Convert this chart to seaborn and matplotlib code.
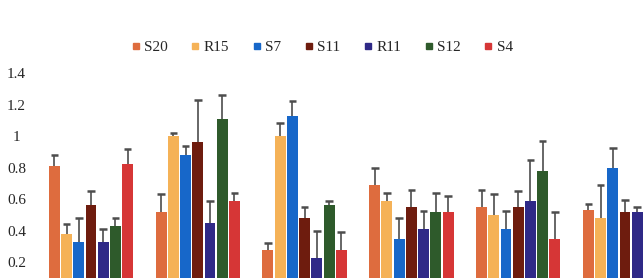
import numpy as np
import pandas as pd
import matplotlib
matplotlib.use("Agg")
import matplotlib.pyplot as plt
from matplotlib.lines import Line2D
import seaborn as sns

# groups (x labels are cropped off in the reference)
groups = ["G1", "G2", "G3", "G4", "G5", "G6"]
samples = ["S20", "R15", "S7", "S11", "R11", "S12", "S4"]
colors = ["#DE6C3E", "#F5B257", "#1767C9", "#6E1C0E", "#2F2987", "#2E5A2B", "#D63636"]

# mean values per sample, one list per group (last two of G6 are outside the crop)
g1 = [0.81, 0.38, 0.33, 0.56, 0.33, 0.43, 0.82]
g2 = [0.52, 1.00, 0.88, 0.96, 0.45, 1.11, 0.59]
g3 = [0.28, 1.00, 1.13, 0.48, 0.23, 0.56, 0.28]
g4 = [0.69, 0.59, 0.35, 0.55, 0.41, 0.52, 0.52]
g5 = [0.55, 0.50, 0.41, 0.55, 0.59, 0.78, 0.35]
g6 = [0.53, 0.48, 0.80, 0.52, 0.52, np.nan, np.nan]

# upper error bars
e1 = [0.07, 0.06, 0.15, 0.09, 0.08, 0.05, 0.10]
e2 = [0.11, 0.02, 0.06, 0.27, 0.14, 0.15, 0.05]
e3 = [0.045, 0.085, 0.09, 0.07, 0.17, 0.03, 0.11]
e4 = [0.11, 0.05, 0.13, 0.11, 0.115, 0.12, 0.10]
e5 = [0.11, 0.13, 0.115, 0.10, 0.26, 0.19, 0.17]
e6 = [0.04, 0.21, 0.125, 0.075, 0.03, np.nan, np.nan]

values = [g1, g2, g3, g4, g5, g6]
errors = [e1, e2, e3, e4, e5, e6]

rows = []
for gi, g in enumerate(groups):
    for si, s in enumerate(samples):
        rows.append({"group": g, "sample": s, "value": values[gi][si], "err": errors[gi][si]})
df = pd.DataFrame(rows).dropna()

sns.set_style("white")
plt.rcParams["font.family"] = ["Liberation Serif", "DejaVu Serif"]

fig = plt.figure(figsize=(6.44, 2.78), dpi=100)
ax = fig.add_axes([40 / 644, 0, 1 - 40 / 644, 0.794])

sns.barplot(data=df, x="group", y="value", hue="sample", order=groups,
            hue_order=samples, palette=colors, errorbar=None, gap=0.1,
            saturation=1, linewidth=0, ax=ax, legend=False)

# plus-only error bars, matched back to bars by position
err_lookup = {(gi, s): errors[gi][si] for gi in range(len(groups)) for si, s in enumerate(samples)}
cap = 0.035
for s, cont in zip(samples, ax.containers):
    for bar in cont:
        h = bar.get_height()
        if np.isnan(h):
            continue
        xc = bar.get_x() + bar.get_width() / 2
        gi = int(round(xc))
        e = err_lookup[(gi, s)]
        ax.vlines(xc, h, h + e, color="#4d4d4d", linewidth=1.2, zorder=3)
        ax.hlines(h + e, xc - cap, xc + cap, color="#4d4d4d", linewidth=1.8, zorder=3)

ax.set_xlim(-(91 - 40) / 106.8, (644 - 91) / 106.8)
ax.set_ylim(0.1, 1.5)
ax.set_yticks([0.2, 0.4, 0.6, 0.8, 1.0, 1.2, 1.4])
ax.set_yticklabels(["0.2", "0.4", "0.6", "0.8", "1", "1.2", "1.4"])
ax.tick_params(axis="y", length=0, pad=17, labelsize=11)
for lab in ax.get_yticklabels():
    lab.set_horizontalalignment("center")
ax.set_xticks([])
ax.set_xlabel("")
ax.set_ylabel("")
sns.despine(ax=ax, left=True, bottom=True)

handles = [Line2D([], [], marker="s", linestyle="none", markersize=5,
                  markerfacecolor=c, markeredgecolor=c) for c in colors]
fig.legend(handles, samples, loc="center", bbox_to_anchor=(0.5, 1 - 47 / 278),
           ncol=7, frameon=False, fontsize=11, handlelength=0.6,
           handletextpad=0.25, columnspacing=1.5)

fig.savefig("out.png", dpi=100)
